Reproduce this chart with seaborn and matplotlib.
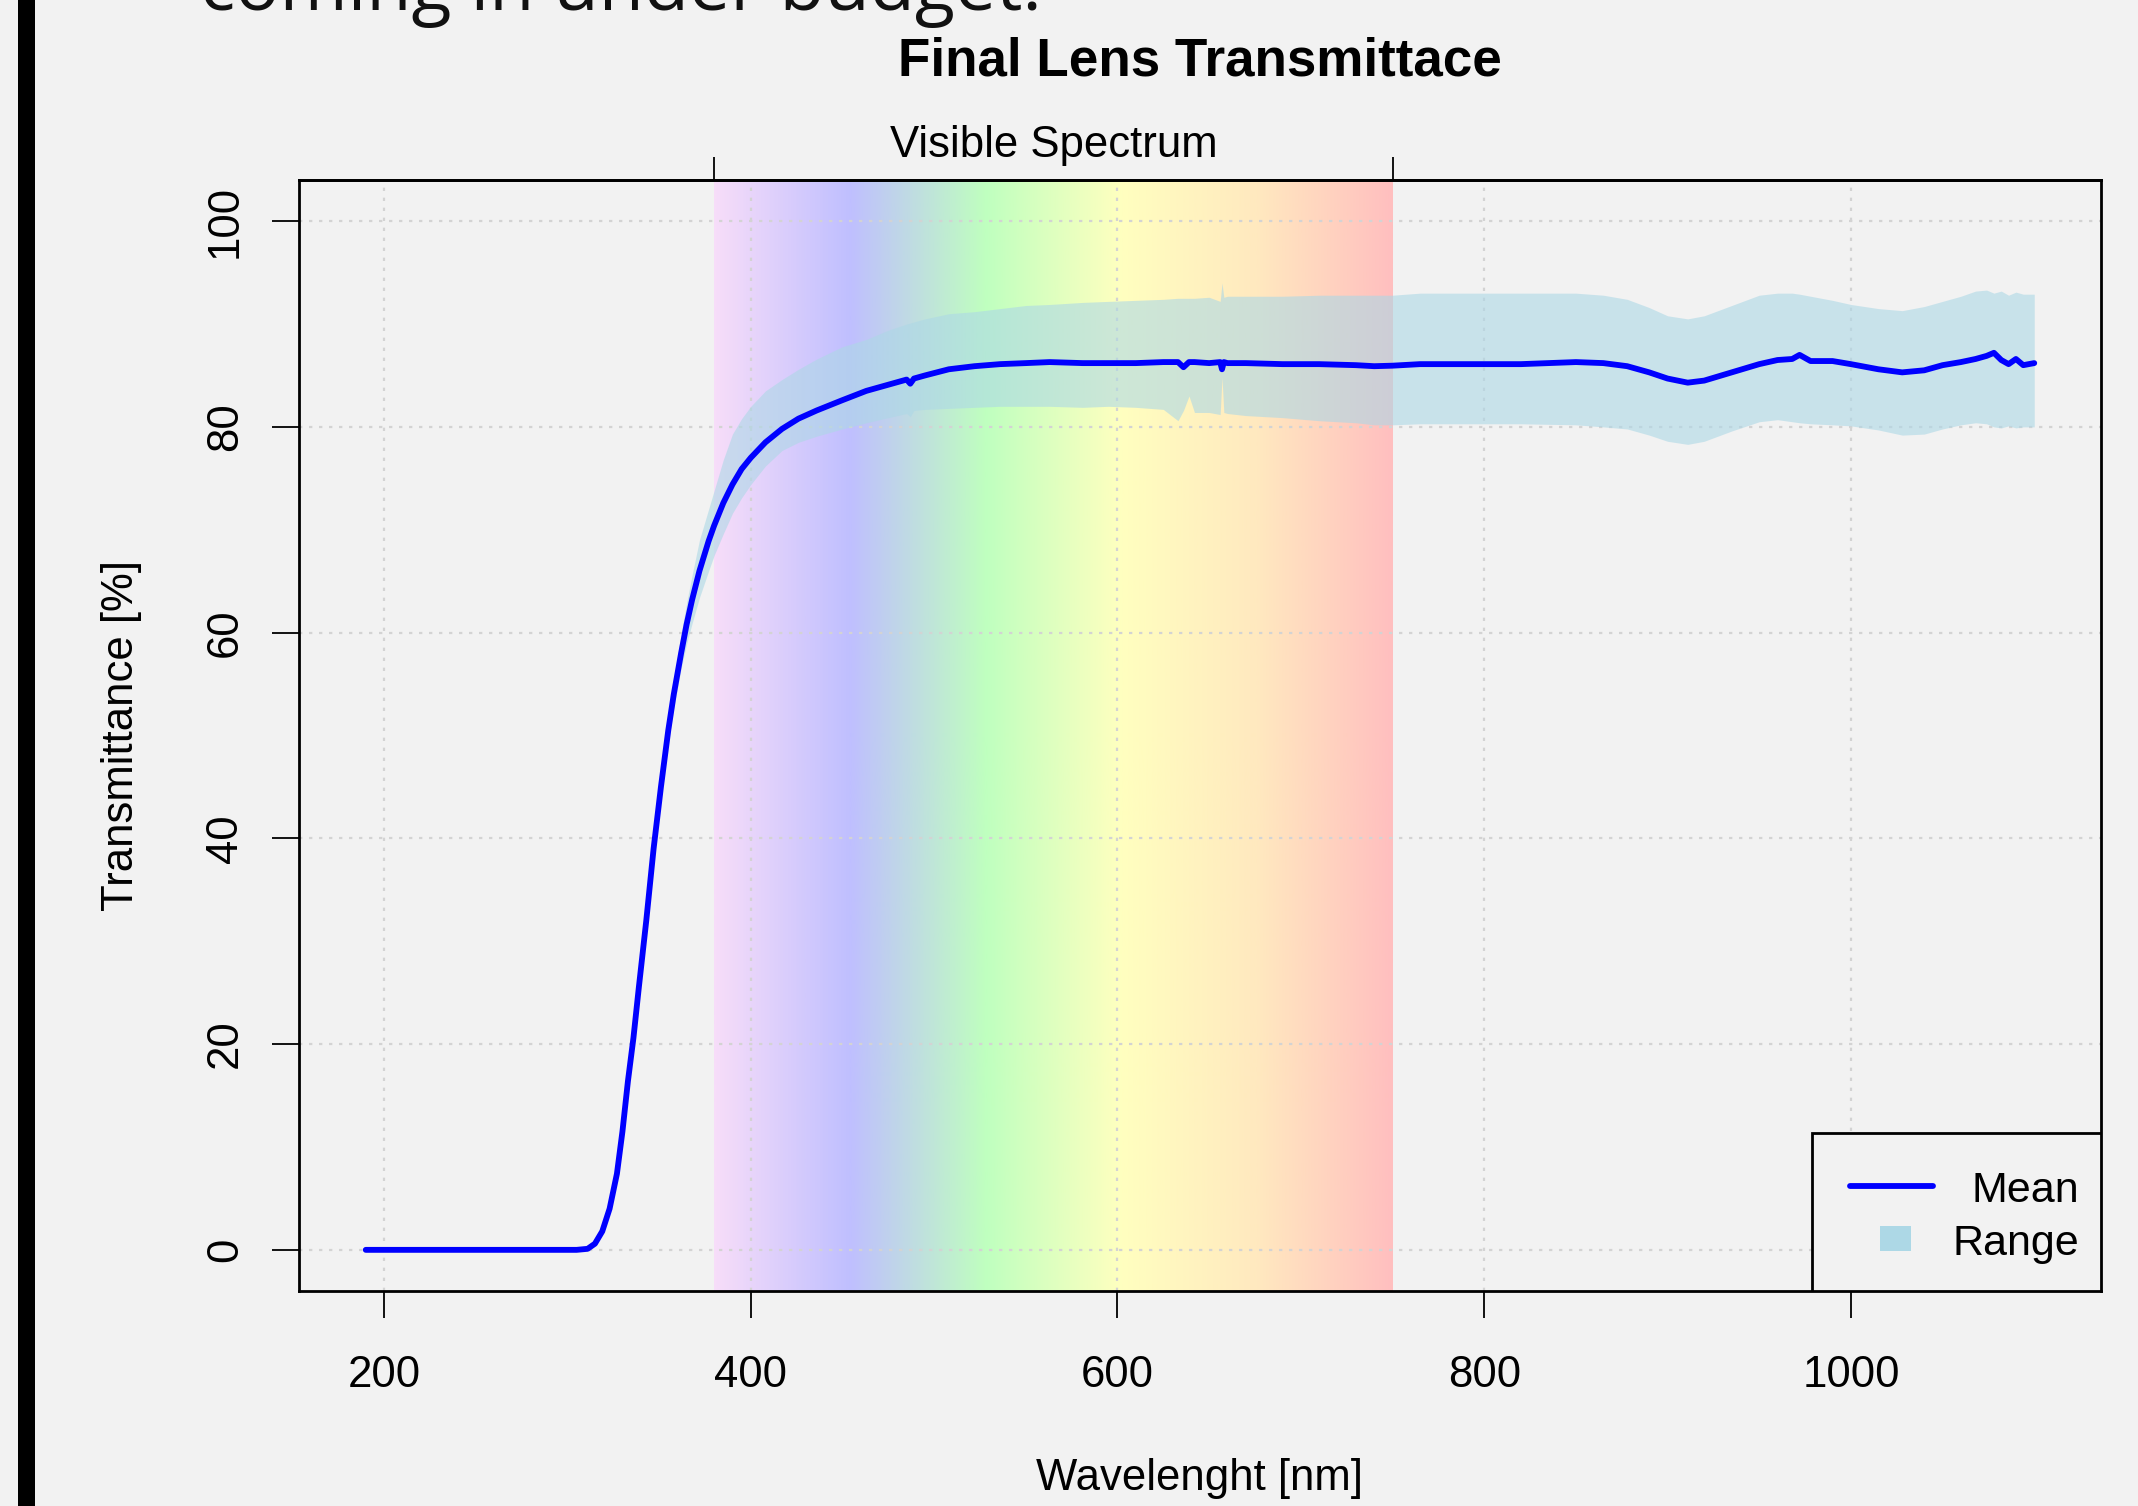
import numpy as np
import pandas as pd
import matplotlib
matplotlib.use("Agg")
import matplotlib.pyplot as plt
import seaborn as sns
from matplotlib.colors import LinearSegmentedColormap
from matplotlib.patches import Rectangle
from matplotlib.lines import Line2D

sns.set_theme(style="white")
plt.rcParams["font.family"] = ["Liberation Sans", "DejaVu Sans"]

# wavelength [nm] and transmittance readings [%]
wavelength = [190, 250, 305, 311, 315, 319, 323, 327, 330, 333,
              336, 339, 343, 347, 351, 355, 358, 362, 365, 368,
              372, 377, 380, 385, 390, 395, 400, 408, 417, 426,
              436, 450, 463, 475, 485, 487, 489, 495, 508, 522,
              536, 550, 563, 581, 595, 610, 625, 633, 636, 639,
              642, 650, 656, 657, 658, 660, 670, 690, 710, 730,
              740, 750, 765, 790, 820, 850, 865, 878, 890, 900,
              911, 920, 935, 950, 960, 968, 972, 978, 990, 1000,
              1015, 1028, 1040, 1050, 1060, 1068, 1074, 1078, 1082, 1086,
              1090, 1094, 1100]

mean_t = [0, 0, 0, 0.1, 0.6, 1.8, 4.0, 7.4, 11.5, 16.4,
          20.6, 25.6, 32.0, 39.0, 45.0, 50.5, 54.0, 58.0, 60.8, 63.2,
          66.0, 68.9, 70.4, 72.6, 74.4, 75.9, 77.0, 78.5, 79.8, 80.8,
          81.6, 82.6, 83.5, 84.1, 84.6, 84.2, 84.7, 85.0, 85.6, 85.9,
          86.1, 86.2, 86.3, 86.2, 86.2, 86.2, 86.3, 86.3, 85.8, 86.3,
          86.3, 86.2, 86.3, 85.6, 86.3, 86.2, 86.2, 86.1, 86.1, 86.0,
          85.9, 85.95, 86.1, 86.1, 86.1, 86.3, 86.2, 85.9, 85.3, 84.7,
          84.3, 84.5, 85.3, 86.1, 86.5, 86.6, 87.0, 86.4, 86.4, 86.1,
          85.6, 85.3, 85.5, 86.0, 86.3, 86.6, 86.9, 87.2, 86.5, 86.1,
          86.6, 86.0, 86.2]

upper_t = [0, 0, 0, 0.1, 0.6, 1.9, 4.2, 7.7, 11.9, 16.9,
           21.2, 26.3, 32.8, 39.9, 46.0, 51.7, 55.4, 59.9, 62.9, 65.6,
           69.0, 72.0, 73.8, 76.8, 79.3, 80.8, 82.0, 83.5, 84.6, 85.6,
           86.6, 87.8, 88.5, 89.4, 90.0, 90.1, 90.2, 90.5, 91.0, 91.2,
           91.5, 91.8, 91.9, 92.1, 92.2, 92.3, 92.4, 92.5, 92.5, 92.5,
           92.5, 92.6, 92.2, 94.0, 92.6, 92.7, 92.7, 92.7, 92.8, 92.8,
           92.8, 92.8, 93.0, 93.0, 93.0, 93.0, 92.8, 92.4, 91.6, 90.8,
           90.5, 90.8, 91.8, 92.8, 93.0, 93.0, 92.9, 92.7, 92.3, 91.9,
           91.5, 91.3, 91.7, 92.2, 92.7, 93.2, 93.3, 93.0, 93.2, 92.8,
           93.1, 92.9, 92.9]

lower_t = [0, 0, 0, 0.1, 0.6, 1.7, 3.9, 7.2, 11.2, 16.0,
           20.1, 25.0, 31.3, 38.2, 44.0, 49.3, 52.7, 56.5, 58.9, 60.9,
           63.4, 66.0, 67.5, 69.6, 71.6, 73.1, 74.4, 76.2, 77.7, 78.5,
           79.1, 79.8, 80.4, 80.9, 81.3, 81.0, 81.6, 81.7, 81.8, 81.9,
           82.0, 82.0, 82.0, 81.9, 82.0, 81.9, 81.7, 80.6, 81.6, 83.0,
           81.4, 81.4, 81.2, 84.8, 81.4, 81.3, 81.1, 80.9, 80.6, 80.4,
           80.2, 80.2, 80.3, 80.3, 80.3, 80.2, 80.0, 79.8, 79.2, 78.6,
           78.3, 78.6, 79.6, 80.5, 80.7, 80.5, 80.4, 80.3, 80.2, 80.1,
           79.7, 79.2, 79.3, 79.8, 80.2, 80.4, 80.3, 80.0, 79.9, 80.1,
           79.9, 80.0, 80.0]

# visible spectrum band
vis_range = [380, 750]
vis_label = "Visible Spectrum"
spectrum_colors = ["#F7DDF9", "#BFBFFF", "#BFFFBF", "#FFFFBF", "#FFE9BF", "#FFBFBF"]

x_ticks = [200, 400, 600, 800, 1000]
y_ticks = [0, 20, 40, 60, 80, 100]
y_range = [0, 100]

df = pd.DataFrame({"wavelength": wavelength, "mean": mean_t,
                   "upper": upper_t, "lower": lower_t})

BG = "#F2F2F2"
FS = 31.5
LW = 4.2

fig = plt.figure(figsize=(21.38, 15.06), dpi=100, facecolor=BG)
ax = fig.add_axes([0.13985, 0.14276, 0.84284, 0.73772])
ax.set_facecolor(BG)

# rainbow background for visible range
spec_cmap = LinearSegmentedColormap.from_list("spectrum", spectrum_colors)
ax.imshow(np.linspace(0, 1, 512).reshape(1, -1), cmap=spec_cmap, aspect="auto",
          extent=(vis_range[0], vis_range[1], 0, 1),
          transform=ax.get_xaxis_transform(), zorder=0, interpolation="bilinear")

ax.grid(True, color="#D3D3D3", linestyle=(0, (1.5, 3)), linewidth=1.6)
ax.set_axisbelow(True)

ax.fill_between(df["wavelength"], df["lower"], df["upper"],
                color="#ADD8E6", alpha=0.6, linewidth=0, zorder=2)
sns.lineplot(data=df, x="wavelength", y="mean", color="#0000FF",
             linewidth=LW, estimator=None, sort=False, ax=ax, zorder=3)

xmin, xmax = min(wavelength), max(wavelength)
xpad = 0.04 * (xmax - xmin)
ypad = 0.04 * (y_range[1] - y_range[0])
ax.set_xlim(xmin - xpad, xmax + xpad)
ax.set_ylim(y_range[0] - ypad, y_range[1] + ypad)

ax.set_xticks(x_ticks)
ax.set_yticks(y_ticks)
ax.tick_params(axis="both", direction="out", length=19.4, width=1.3,
               color="black", labelsize=FS, labelcolor="black")
ax.tick_params(axis="x", pad=26.6, bottom=True)
ax.tick_params(axis="y", pad=18.7, labelrotation=90, left=True)
for lab in ax.get_yticklabels():
    lab.set_va("center")
for s in ax.spines.values():
    s.set_color("black")
    s.set_linewidth(2.0)

ax.set_xlabel("Wavelenght [nm]", fontsize=FS, color="black")
ax.xaxis.set_label_coords(0.5, -0.150)
ax.set_ylabel("Transmittance [%]", fontsize=FS, color="black")
ax.yaxis.set_label_coords(-0.0874, 0.5)
ax.set_title("Final Lens Transmittace", fontsize=38.2, fontweight="bold",
             color="black", y=1.0945, pad=0)

# top axis marking the visible range
secax = ax.secondary_xaxis("top")
secax.set_xticks(vis_range, labels=["", ""])
secax.set_xticks([sum(vis_range) / 2], labels=[vis_label], minor=True)
secax.tick_params(which="major", direction="out", length=16.5, width=1.3, color="black")
secax.tick_params(which="minor", length=0, pad=10, labelsize=FS, labelcolor="black")
secax.spines["top"].set_linewidth(2.0)
secax.spines["top"].set_color("black")

# legend box (bottom right, text right-aligned like the original)
ax.add_patch(Rectangle((0.8396, 0.0), 0.1604, 0.1422, transform=ax.transAxes,
                       facecolor=BG, edgecolor="black", linewidth=2.0, zorder=5))
ax.add_line(Line2D([0.8607, 0.9068], [0.0945, 0.0945], transform=ax.transAxes,
                   color="#0000FF", linewidth=LW, solid_capstyle="round", zorder=6))
ax.add_patch(Rectangle((0.8774, 0.036), 0.0172, 0.0225, transform=ax.transAxes,
                       facecolor="#ADD8E6", edgecolor="none", zorder=6))
ax.text(0.9878, 0.0804, "Mean", transform=ax.transAxes, ha="right", va="baseline",
        fontsize=31, color="black", zorder=7)
ax.text(0.9878, 0.0324, "Range", transform=ax.transAxes, ha="right", va="baseline",
        fontsize=31, color="black", zorder=7)

# slide remnants: black left bar and cut-off caption
fig.add_artist(Rectangle((18 / 2138, 0), 17 / 2138, 1, transform=fig.transFigure,
                         facecolor="black", edgecolor="none"))
fig.text(200 / 2138, 1 - 10 / 1506, "coming in under budget.", fontsize=53,
         family=["Open Sans", "DejaVu Sans"], color="#111111", ha="left", va="baseline")

fig.savefig("out.png", dpi=100, facecolor=BG)
